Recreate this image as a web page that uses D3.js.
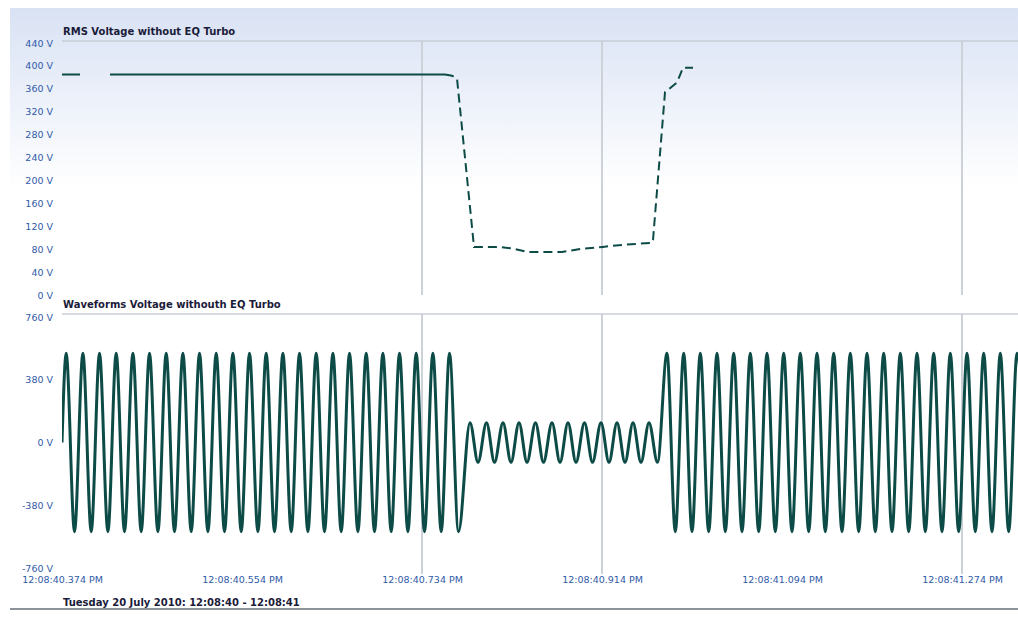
<!DOCTYPE html>
<html>
<head>
<meta charset="utf-8">
<script src="https://cdn.jsdelivr.net/npm/d3@7"></script>
<style>
  body { margin: 0; background: #fff; }
  svg { display: block; }
</style>
</head>
<body>
<svg id="chart" width="1018" height="617"></svg>
<script>
// x values are milliseconds after 12:08:40.374 PM
var xTickMs = [0, 180, 360, 540, 720, 900];
var xTickLabels = ["12:08:40.374 PM", "12:08:40.554 PM", "12:08:40.734 PM",
  "12:08:40.914 PM", "12:08:41.094 PM", "12:08:41.274 PM"];
var gridMs = [360, 540, 900];

var rmsTicks = [0, 40, 80, 120, 160, 200, 240, 280, 320, 360, 400, 440];
var waveTicks = [-760, -380, 0, 380, 760];

// RMS voltage (null = gap in the trace)
var rmsSolidMs = [0, 18, 19, 48, 383];
var rmsSolidV = [385, 385, null, 385, 385];
var rmsDashMs = [383, 390, 395, 412, 418, 438, 451, 466, 500, 521, 541, 563, 590, 591, 603, 615, 621, 631];
var rmsDashV = [385, 383, 378, 84, 84, 84, 81, 75, 75, 81, 84, 88, 91, 96, 354, 371, 397, 397];

// waveform turning points (ms, V)
var waveMs = [0,
  4.2, 12.5, 20.9, 29.2, 37.5, 45.9, 54.2, 62.5, 70.9, 79.2, 87.5, 95.9,
  104.2, 112.5, 120.9, 129.2, 137.5, 145.9, 154.2, 162.5, 170.9, 179.2, 187.5, 195.9,
  204.2, 212.5, 220.9, 229.2, 237.5, 245.9, 254.2, 262.5, 270.9, 279.2, 287.5, 295.9,
  304.2, 312.5, 320.9, 329.2, 337.5, 345.9, 354.2, 362.5, 370.9, 379.2, 387.5, 396.5,
  408, 416, 424.5, 432.5, 441, 449, 457, 465, 473.5, 481.5, 490, 498,
  506, 514, 522.5, 530.5, 539, 547, 555, 563, 571, 579, 587, 595.5,
  605, 613.3, 621.7, 630, 638.3, 646.7, 655, 663.3, 671.7, 680, 688.3, 696.7,
  705, 713.3, 721.7, 730, 738.3, 746.7, 755, 763.3, 771.7, 780, 788.3, 796.7,
  805, 813.3, 821.7, 830, 838.3, 846.7, 855, 863.3, 871.7, 880, 888.3, 896.7,
  905, 913.3, 921.7, 930, 938.3, 946.7, 955, 963.3];
var waveV = [0,
  540, -540, 540, -540, 540, -540, 540, -540, 540, -540, 540, -540,
  540, -540, 540, -540, 540, -540, 540, -540, 540, -540, 540, -540,
  540, -540, 540, -540, 540, -540, 540, -540, 540, -540, 540, -540,
  540, -540, 540, -540, 540, -540, 540, -540, 540, -540, 540, -540,
  120, -120, 120, -120, 120, -120, 120, -120, 120, -120, 120, -120,
  120, -120, 120, -120, 120, -120, 120, -120, 120, -120, 120, -120,
  540, -540, 540, -540, 540, -540, 540, -540, 540, -540, 540, -540,
  540, -540, 540, -540, 540, -540, 540, -540, 540, -540, 540, -540,
  540, -540, 540, -540, 540, -540, 540, -540, 540, -540, 540, -540,
  540, -540, 540, -540, 540, -540, 540, -540];

var lineColor = "#0d4b47";
var svg = d3.select("#chart");

var defs = svg.append("defs");
var grad = defs.append("linearGradient").attr("id", "bg")
  .attr("x1", 0).attr("y1", 0).attr("x2", 0).attr("y2", 1);
grad.append("stop").attr("offset", "0%").attr("stop-color", "#d9e2f4");
grad.append("stop").attr("offset", "60%").attr("stop-color", "#ffffff");
defs.append("clipPath").attr("id", "plotclip")
  .append("rect").attr("x", 62).attr("y", 300).attr("width", 956).attr("height", 280);

svg.append("rect").attr("x", 10).attr("y", 8).attr("width", 1008).attr("height", 300)
  .attr("fill", "url(#bg)");

var x = d3.scaleLinear().domain([0, 956]).range([62, 1018]);
var yRms = d3.scaleLinear().domain([0, 440]).range([295, 43]);
var yWave = d3.scaleLinear().domain([-760, 760]).range([568, 317]);

// header lines
svg.append("line").attr("x1", 62).attr("x2", 1018).attr("y1", 41).attr("y2", 41)
  .attr("stroke", "#c9ced6").attr("stroke-width", 1.5);
svg.append("line").attr("x1", 62).attr("x2", 1018).attr("y1", 314).attr("y2", 314)
  .attr("stroke", "#c9ced6").attr("stroke-width", 1.5);

// grid
svg.selectAll(".gridTop").data(gridMs).enter().append("line")
  .attr("x1", function (d) { return x(d); }).attr("x2", function (d) { return x(d); })
  .attr("y1", 41).attr("y2", 295)
  .attr("stroke", "#cdd1d8").attr("stroke-width", 2);
svg.selectAll(".gridBot").data(gridMs).enter().append("line")
  .attr("x1", function (d) { return x(d); }).attr("x2", function (d) { return x(d); })
  .attr("y1", 314).attr("y2", 574)
  .attr("stroke", "#cdd1d8").attr("stroke-width", 2);

// titles
svg.append("text").attr("x", 63).attr("y", 35).text("RMS Voltage without EQ Turbo")
  .attr("font-family", "DejaVu Sans").attr("font-weight", "bold")
  .attr("font-size", "10px").attr("fill", "#1b1b3a");
svg.append("text").attr("x", 63).attr("y", 308).text("Waveforms Voltage withouth EQ Turbo")
  .attr("font-family", "DejaVu Sans").attr("font-weight", "bold")
  .attr("font-size", "10px").attr("fill", "#1b1b3a");

// axes
function styleAxis(g) {
  g.select(".domain").remove();
  g.selectAll(".tick line").remove();
  g.selectAll("text").attr("font-family", "DejaVu Sans").attr("font-size", "9.5px")
    .attr("fill", "#2f5aa8");
}
svg.append("g").attr("transform", "translate(53,0)")
  .call(d3.axisLeft(yRms).tickValues(rmsTicks).tickSize(0).tickPadding(0)
    .tickFormat(function (d) { return d + " V"; }))
  .call(styleAxis);
svg.append("g").attr("transform", "translate(53,0)")
  .call(d3.axisLeft(yWave).tickValues(waveTicks).tickSize(0).tickPadding(0)
    .tickFormat(function (d) { return d + " V"; }))
  .call(styleAxis);
svg.append("g").attr("transform", "translate(0,574)")
  .call(d3.axisBottom(x).tickValues(xTickMs).tickSize(0).tickPadding(2)
    .tickFormat(function (d, i) { return xTickLabels[i]; }))
  .call(styleAxis);

// RMS line
var rmsLine = d3.line()
  .defined(function (d) { return d[1] !== null; })
  .x(function (d) { return x(d[0]); })
  .y(function (d) { return yRms(d[1]); });
svg.append("path").datum(d3.zip(rmsSolidMs, rmsSolidV))
  .attr("d", rmsLine).attr("fill", "none")
  .attr("stroke", lineColor).attr("stroke-width", 2);
svg.append("path").datum(d3.zip(rmsDashMs, rmsDashV))
  .attr("d", rmsLine).attr("fill", "none")
  .attr("stroke", lineColor).attr("stroke-width", 2)
  .attr("stroke-dasharray", "9,5");

// waveform
var waveLine = d3.line().curve(d3.curveMonotoneX)
  .x(function (d) { return x(d[0]); })
  .y(function (d) { return yWave(d[1]); });
svg.append("path").datum(d3.zip(waveMs, waveV))
  .attr("clip-path", "url(#plotclip)")
  .attr("d", waveLine).attr("fill", "none")
  .attr("stroke", lineColor).attr("stroke-width", 3);

// footer
svg.append("text").attr("x", 63).attr("y", 606)
  .text("Tuesday 20 July 2010: 12:08:40 - 12:08:41")
  .attr("font-family", "DejaVu Sans").attr("font-weight", "bold")
  .attr("font-size", "10px").attr("fill", "#1b1b3a");
svg.append("line").attr("x1", 10).attr("x2", 1018).attr("y1", 609).attr("y2", 609)
  .attr("stroke", "#8d939b").attr("stroke-width", 2);
</script>
</body>
</html>
